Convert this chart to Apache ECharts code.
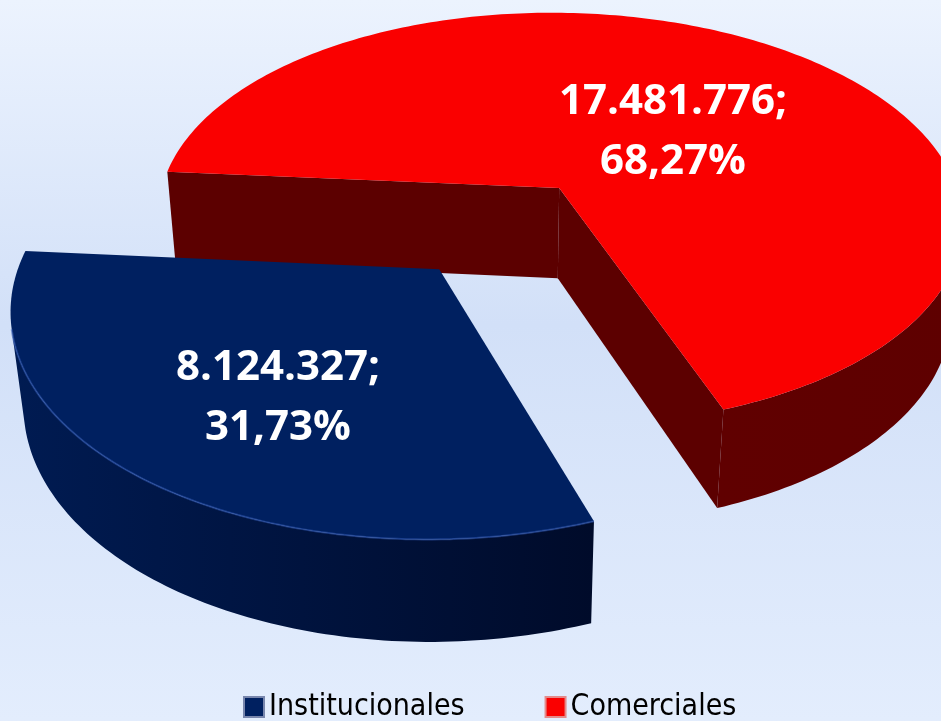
<!DOCTYPE html>
<html>
<head>
<meta charset="utf-8">
<script src="https://cdn.jsdelivr.net/npm/echarts@6/dist/echarts.min.js"></script>
<style>body { margin: 0; }</style>
</head>
<body>
<div id="pie3d" style="width: 941px;height:721px;"></div>

<script type="text/javascript">
	// datos
	var categories = ['Institucionales', 'Comerciales'];
	var values = [8124327, 17481776];

	// colores
	var topColors = ['#002060', '#fa0000'];
	var sideColors = [['#001b52', '#000b2a'], ['#600000', '#5e0000']];
	var cutColors = ['#001236', '#5c0000'];
	var rimColors = ['rgba(50,90,180,0.55)', null];
	var legendBorders = ['#7886ad', '#e48a8a'];

	// vista 3D (perspectiva)
	var CX = 501, CY = 227.5, FOCAL = 2250, CAM_D = 5.5;
	var TILT = 31.5 * Math.PI / 180;
	var THICK = 0.27, EXPLODE = 0.24, START = 70.5;
	var labelRadius = [0.62, 0.42], labelShift = [-4.5, 9];

	var total = values.reduce(function(a, b) { return a + b; }, 0);
	var sinT = Math.sin(TILT), cosT = Math.cos(TILT);
	var DEG = Math.PI / 180;

	function project(x, f, h) {
		var depth = CAM_D - f * cosT - h * sinT;
		var yc = h * cosT - f * sinT;
		return [CX + FOCAL * x / depth, CY - FOCAL * yc / depth];
	}

	function fmtNum(v) {
		return String(v).replace(/\B(?=(\d{3})+(?!\d))/g, '.');
	}

	function fmtPct(v) {
		return (v / total * 100).toFixed(2).replace('.', ',') + '%';
	}

	function renderSlice(i) {
		var before = 0;
		for (var k = 0; k < i; k++) before += values[k];
		var a0 = (START + before / total * 360) * DEG;
		var a1 = (START + (before + values[i]) / total * 360) * DEG;
		var mid = (a0 + a1) / 2;
		var ox = EXPLODE * Math.cos(mid), of = EXPLODE * Math.sin(mid);
		var camF = CAM_D * cosT;
		var children = [];
		var rimLines = [];

		function rim(a, h) {
			return project(ox + Math.cos(a), of + Math.sin(a), h);
		}

		// caras de corte visibles
		[[a0, a0 - Math.PI / 2], [a1, a1 + Math.PI / 2]].forEach(function(fc) {
			var nx = Math.cos(fc[1]), nf = Math.sin(fc[1]);
			if (-ox * nx + (camF - of) * nf > 0) {
				children.push({
					type: 'polygon',
					shape: { points: [project(ox, of, 0), rim(fc[0], 0), rim(fc[0], -THICK), project(ox, of, -THICK)] },
					style: { fill: cutColors[i] }
				});
			}
		});

		// pared exterior, solo la parte que mira a la camara
		var A = -ox, B = camF - of;
		var alpha = Math.atan2(B, A), beta = Math.acos(1 / Math.sqrt(A * A + B * B));
		for (var w = -1; w <= 1; w++) {
			var s = alpha + w * 2 * Math.PI;
			var lo = Math.max(a0, s - beta), hi = Math.min(a1, s + beta);
			if (hi <= lo) continue;
			var n = Math.max(4, Math.ceil((hi - lo) / DEG));
			var pts = [], line = [];
			for (var j = 0; j <= n; j++) {
				var p = rim(lo + (hi - lo) * j / n, 0);
				pts.push(p);
				line.push(p);
			}
			for (var j2 = n; j2 >= 0; j2--) pts.push(rim(lo + (hi - lo) * j2 / n, -THICK));
			children.push({
				type: 'polygon',
				shape: { points: pts },
				style: {
					fill: new echarts.graphic.LinearGradient(0, 0, 1, 0, [
						{ offset: 0, color: sideColors[i][0] },
						{ offset: 1, color: sideColors[i][1] }
					])
				}
			});
			rimLines.push(line);
		}

		// cara superior
		var topPts = [project(ox, of, 0)];
		var steps = Math.max(8, Math.ceil((a1 - a0) / DEG));
		for (var t = 0; t <= steps; t++) topPts.push(rim(a0 + (a1 - a0) * t / steps, 0));
		children.push({
			type: 'polygon',
			shape: { points: topPts },
			style: { fill: topColors[i] }
		});

		// brillo del borde
		if (rimColors[i]) {
			rimLines.forEach(function(line) {
				children.push({
					type: 'polyline',
					shape: { points: line },
					style: { stroke: rimColors[i], lineWidth: 2, fill: null }
				});
			});
		}

		// etiqueta
		var la = mid + labelShift[i] * DEG;
		var lp = project(ox + labelRadius[i] * Math.cos(la), of + labelRadius[i] * Math.sin(la), 0);
		children.push({
			type: 'text',
			x: lp[0], y: lp[1],
			style: {
				text: fmtNum(values[i]) + ';\n' + fmtPct(values[i]),
				fill: '#ffffff',
				fontFamily: '"Open Sans", "Noto Sans", sans-serif',
				fontWeight: 'bold',
				fontSize: 42,
				lineHeight: 60,
				align: 'center',
				verticalAlign: 'middle'
			}
		});

		return { type: 'group', children: children };
	}

	var chart = echarts.init(document.getElementById('pie3d'));
	var series = categories.map(function(name, i) {
		return {
			name: name,
			type: 'custom',
			coordinateSystem: 'none',
			silent: true,
			z: i === 0 ? 3 : 2,
			itemStyle: { color: topColors[i] },
			data: [[values[i]]],
			renderItem: function() { return renderSlice(i); }
		};
	});

	chart.setOption({
		animation: false,
		backgroundColor: {
			type: 'linear', x: 0, y: 0, x2: 0, y2: 1,
			colorStops: [
				{ offset: 0, color: '#ecf3fe' },
				{ offset: 0.45, color: '#d2e0f8' },
				{ offset: 1, color: '#e3edfd' }
			]
		},
		legend: {
			left: 238,
			top: 687,
			icon: 'rect',
			itemWidth: 20,
			itemHeight: 20,
			itemGap: 80,
			data: categories.map(function(name, i) {
				return { name: name, itemStyle: { borderColor: legendBorders[i], borderWidth: 2 } };
			}),
			textStyle: {
				fontFamily: '"Liberation Sans Narrow", "DejaVu Sans Condensed", sans-serif',
				fontSize: 30,
				color: '#000000'
			}
		},
		series: series
	});
</script>
</body>
</html>
